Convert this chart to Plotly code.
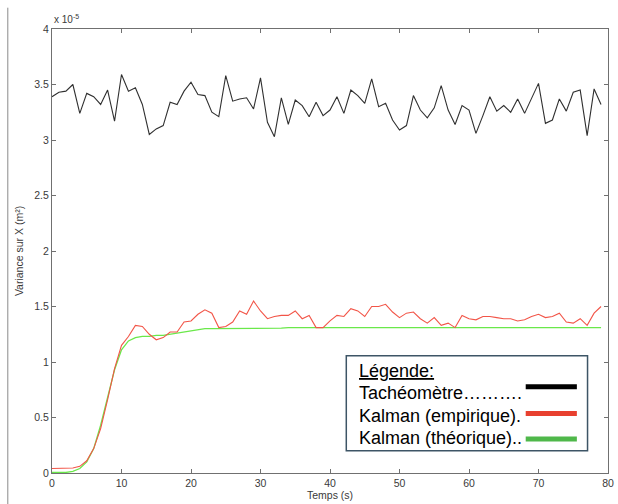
import plotly.graph_objects as go

# Time axis (s)
temps = list(range(80))

# Variance values, in units of 1e-5 m²
tacheometre = [3.39, 3.43, 3.44, 3.50, 3.24, 3.42, 3.39, 3.32, 3.45, 3.17,
               3.59, 3.44, 3.47, 3.32, 3.05, 3.10, 3.13, 3.34, 3.32, 3.44,
               3.52, 3.41, 3.40, 3.25, 3.21, 3.58, 3.35, 3.37, 3.38, 3.28,
               3.56, 3.16, 3.03, 3.38, 3.14, 3.36, 3.31, 3.21, 3.34, 3.22,
               3.27, 3.39, 3.24, 3.45, 3.40, 3.33, 3.55, 3.30, 3.33, 3.18,
               3.09, 3.13, 3.40, 3.27, 3.20, 3.29, 3.49, 3.27, 3.14, 3.31,
               3.27, 3.06, 3.22, 3.39, 3.26, 3.31, 3.25, 3.37, 3.24, 3.38,
               3.51, 3.15, 3.18, 3.37, 3.26, 3.43, 3.45, 3.04, 3.46, 3.32]

kalman_emp = [0.04, 0.04, 0.04, 0.045, 0.06, 0.11, 0.22, 0.40, 0.66, 0.94,
              1.15, 1.23, 1.33, 1.32, 1.25, 1.20, 1.22, 1.27, 1.27, 1.36,
              1.37, 1.43, 1.47, 1.44, 1.31, 1.32, 1.36, 1.46, 1.43, 1.55,
              1.46, 1.39, 1.41, 1.42, 1.42, 1.46, 1.39, 1.42, 1.31, 1.31,
              1.37, 1.42, 1.41, 1.48, 1.46, 1.41, 1.50, 1.50, 1.52, 1.45,
              1.40, 1.44, 1.45, 1.39, 1.35, 1.40, 1.33, 1.35, 1.31, 1.42,
              1.39, 1.38, 1.41, 1.41, 1.40, 1.39, 1.39, 1.37, 1.38, 1.41,
              1.43, 1.40, 1.41, 1.44, 1.36, 1.35, 1.39, 1.33, 1.44, 1.50]

kalman_theo = [0.005, 0.005, 0.005, 0.015, 0.04, 0.10, 0.22, 0.43, 0.69, 0.93,
               1.11, 1.19, 1.22, 1.23, 1.23, 1.24, 1.24, 1.25, 1.26, 1.27,
               1.28, 1.29, 1.30, 1.30, 1.30, 1.305, 1.305, 1.305, 1.305, 1.305,
               1.305, 1.305, 1.305, 1.305, 1.31, 1.31, 1.31, 1.31, 1.31, 1.31,
               1.31, 1.31, 1.31, 1.31, 1.31, 1.31, 1.31, 1.31, 1.31, 1.31,
               1.31, 1.31, 1.31, 1.31, 1.31, 1.31, 1.31, 1.31, 1.31, 1.31,
               1.31, 1.31, 1.31, 1.31, 1.31, 1.31, 1.31, 1.31, 1.31, 1.31,
               1.31, 1.31, 1.31, 1.31, 1.31, 1.31, 1.31, 1.31, 1.31, 1.31]

x_ticks = [0, 10, 20, 30, 40, 50, 60, 70, 80]
y_ticks = [0, 0.5, 1, 1.5, 2, 2.5, 3, 3.5, 4]
y_ticklabels = ["0", "0.5", "1", "1.5", "2", "2.5", "3", "3.5", "4"]

legend_title = "Légende:"
legend_labels = ["Tachéomètre……….", "Kalman (empirique).", "Kalman (théorique).."]
legend_colors = ["#000000", "#e8402f", "#4fb84a"]

FONT = "Liberation Sans, Arial, sans-serif"

fig = go.Figure()
fig.add_trace(go.Scatter(x=temps, y=kalman_theo, mode="lines",
                         line=dict(color="#6ae84a", width=1.3), showlegend=False))
fig.add_trace(go.Scatter(x=temps, y=kalman_emp, mode="lines",
                         line=dict(color="#f25548", width=1.1), showlegend=False))
fig.add_trace(go.Scatter(x=temps, y=tacheometre, mode="lines",
                         line=dict(color="#303030", width=1.1), showlegend=False))

axis_common = dict(showgrid=False, zeroline=False, showline=True, linecolor="#707070",
                   linewidth=1, mirror="ticks", ticks="inside", ticklen=4,
                   tickcolor="#707070", ticklabeloverflow="allow",
                   tickfont=dict(family=FONT, size=10.5, color="#3a3a3a"))

fig.update_xaxes(range=[0, 80], tickvals=x_ticks, **axis_common,
                 title=dict(text="Temps (s)", font=dict(family=FONT, size=10.5, color="#3a3a3a"),
                            standoff=4))
fig.update_yaxes(range=[0, 4], tickvals=y_ticks, ticktext=y_ticklabels, **axis_common,
                 title=dict(text="Variance sur X (m²)", font=dict(family=FONT, size=10.5, color="#3a3a3a"),
                            standoff=8))

annotations = [dict(x=0, y=1.0, xref="paper", yref="paper", xanchor="left", yanchor="bottom",
                    yshift=2, text="x 10<sup>-5</sup>", showarrow=False,
                    font=dict(family=FONT, size=10, color="#3a3a3a"))]
shapes = []

# Legend box (drawn manually: text on the left, line sample on the right)
shapes.append(dict(type="rect", xref="paper", yref="paper", x0=0.5293, x1=0.9632,
                   y0=0.0502, y1=0.2642, line=dict(color="#3d5566", width=1.5),
                   fillcolor="white", layer="above"))
text_ys = [0.1797, 0.129, 0.0784]
line_ys = [0.194, 0.134, 0.0766]
annotations.append(dict(x=0.548, y=0.2304, xref="paper", yref="paper", xanchor="left",
                        yanchor="middle", text="<u>" + legend_title + "</u>", showarrow=False,
                        font=dict(family=FONT, size=18, color="#000000")))
for lab, col, ty, ly in zip(legend_labels, legend_colors, text_ys, line_ys):
    annotations.append(dict(x=0.548, y=ty, xref="paper", yref="paper", xanchor="left",
                            yanchor="middle", text=lab, showarrow=False,
                            font=dict(family=FONT, size=18, color="#000000")))
    shapes.append(dict(type="line", xref="paper", yref="paper", x0=0.852, x1=0.944,
                       y0=ly, y1=ly, line=dict(color=col, width=5), layer="above"))

# Left border line of the original picture
shapes.append(dict(type="line", xref="paper", yref="paper", x0=-0.0795, x1=-0.0795,
                   y0=1.048, y1=-0.08, line=dict(color="#8a8a8a", width=1)))

fig.update_layout(width=618, height=504, margin=dict(l=52, r=4, t=29, b=31),
                  paper_bgcolor="white", plot_bgcolor="white",
                  annotations=annotations, shapes=shapes, showlegend=False)

fig.write_html("out.html")
